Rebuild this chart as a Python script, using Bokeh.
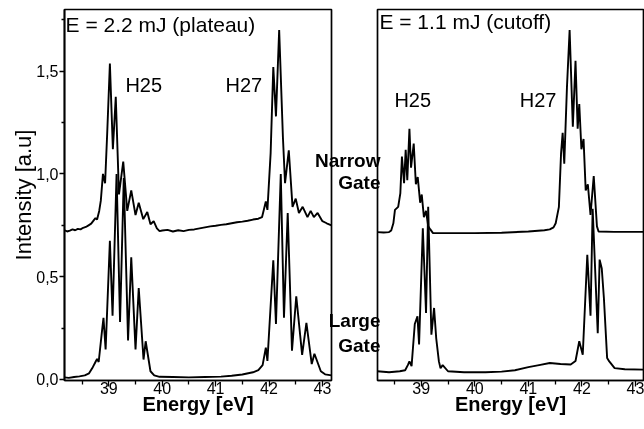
from bokeh.plotting import figure
from bokeh.layouts import row
from bokeh.models import FixedTicker, Label, Range1d
from bokeh.embed import file_html
from bokeh.resources import INLINE

FONT = "Liberation Sans"

# ---------------- axes ----------------
x_ticks = [39, 40, 41, 42, 43]
x_minor_ticks = [38.5, 39.5, 40.5, 41.5, 42.5]
y_ticks = [0.0, 0.5, 1.0, 1.5]
y_tick_labels = ["0,0", "0,5", "1,0", "1,5"]
y_minor_ticks = [0.25, 0.75, 1.25, 1.75]
# gate names shown between the panels, at the height of each trace
gate_positions = [1.063, 0.960, 0.285, 0.163]
gate_labels = ["Narrow", "Gate", "Large", "Gate"]

# ---------------- data (energy eV, intensity a.u.) ----------------
# E = 2.2 mJ (plateau), narrow gate
plateau_narrow = [
    (38.17, 0.726), (38.22, 0.720), (38.27, 0.724), (38.32, 0.730), (38.37, 0.726),
    (38.42, 0.733), (38.47, 0.730), (38.52, 0.738), (38.57, 0.742), (38.62, 0.750),
    (38.67, 0.758), (38.72, 0.775), (38.75, 0.785), (38.78, 0.778), (38.82, 0.820),
    (38.85, 0.870), (38.89, 1.000), (38.93, 0.955), (38.97, 1.200), (39.02, 1.537),
    (39.076, 1.120), (39.13, 1.375), (39.19, 0.900), (39.27, 1.060), (39.345, 0.820),
    (39.42, 0.920), (39.50, 0.800), (39.56, 0.860), (39.645, 0.780), (39.72, 0.815),
    (39.78, 0.755), (39.84, 0.770), (39.90, 0.735), (39.95, 0.722), (40.0, 0.725),
    (40.1, 0.728), (40.2, 0.720), (40.3, 0.726), (40.4, 0.722), (40.5, 0.728),
    (40.6, 0.730), (40.7, 0.735), (40.8, 0.740), (40.9, 0.745), (41.0, 0.748),
    (41.1, 0.752), (41.2, 0.755), (41.3, 0.760), (41.4, 0.765), (41.5, 0.768),
    (41.6, 0.772), (41.7, 0.778), (41.8, 0.782), (41.87, 0.790), (41.94, 0.866),
    (41.97, 0.825), (42.03, 1.100), (42.08, 1.520), (42.13, 1.280), (42.19, 1.700),
    (42.26, 1.180), (42.30, 0.955), (42.37, 1.115), (42.44, 0.840), (42.50, 0.880),
    (42.56, 0.810), (42.63, 0.840), (42.72, 0.790), (42.78, 0.820), (42.84, 0.790),
    (42.91, 0.810), (43.0, 0.770), (43.08, 0.760), (43.17, 0.750),
]
# E = 2.2 mJ (plateau), large gate
plateau_large = [
    (38.17, 0.010), (38.25, 0.008), (38.35, 0.012), (38.45, 0.015), (38.55, 0.020),
    (38.63, 0.030), (38.70, 0.060), (38.75, 0.085), (38.78, 0.100), (38.81, 0.085),
    (38.87, 0.230), (38.90, 0.300), (38.94, 0.146), (39.02, 0.675), (39.07, 0.310),
    (39.145, 1.000), (39.21, 0.280), (39.28, 0.980), (39.36, 0.190), (39.42, 0.594),
    (39.50, 0.146), (39.56, 0.445), (39.65, 0.097), (39.69, 0.186), (39.78, 0.040),
    (39.85, 0.020), (39.95, 0.013), (40.2, 0.012), (40.5, 0.010), (40.8, 0.012),
    (41.1, 0.014), (41.3, 0.018), (41.5, 0.024), (41.7, 0.035), (41.8, 0.045),
    (41.88, 0.070), (41.94, 0.155), (41.97, 0.090), (42.08, 0.580), (42.13, 0.270),
    (42.22, 1.000), (42.28, 0.300), (42.35, 0.810), (42.43, 0.140), (42.51, 0.405),
    (42.62, 0.120), (42.70, 0.275), (42.80, 0.075), (42.85, 0.125), (42.97, 0.040),
    (43.05, 0.025), (43.17, 0.020),
]
# E = 1.1 mJ (cutoff), narrow gate
cutoff_narrow = [
    (38.18, 0.717), (38.30, 0.715), (38.40, 0.717), (38.44, 0.725), (38.48, 0.760),
    (38.51, 0.825), (38.57, 0.840), (38.61, 0.905), (38.64, 1.085), (38.68, 0.955),
    (38.71, 1.117), (38.74, 0.970), (38.78, 1.220), (38.81, 1.030), (38.86, 1.148),
    (38.90, 0.950), (38.935, 0.985), (38.98, 0.860), (39.01, 0.900), (39.05, 0.790),
    (39.09, 0.820), (39.13, 0.745), (39.17, 0.730), (39.22, 0.712), (39.6, 0.712),
    (40.0, 0.712), (40.5, 0.714), (41.0, 0.720), (41.3, 0.726), (41.4, 0.730),
    (41.47, 0.740), (41.51, 0.760), (41.57, 0.840), (41.61, 1.100), (41.64, 1.200),
    (41.67, 1.050), (41.72, 1.420), (41.77, 1.700), (41.83, 1.230), (41.88, 1.550),
    (41.92, 1.220), (41.95, 1.340), (41.99, 1.120), (42.03, 1.170), (42.07, 0.920),
    (42.11, 0.950), (42.16, 0.800), (42.22, 0.990), (42.28, 0.745), (42.31, 0.720),
    (42.6, 0.718), (43.15, 0.718),
]
# E = 1.1 mJ (cutoff), large gate
cutoff_large = [
    (38.18, 0.040), (38.40, 0.035), (38.60, 0.040), (38.70, 0.045), (38.75, 0.070),
    (38.78, 0.088), (38.82, 0.065), (38.88, 0.270), (38.93, 0.307), (38.96, 0.170),
    (39.03, 0.736), (39.09, 0.323), (39.13, 0.840), (39.19, 0.218), (39.24, 0.348),
    (39.28, 0.200), (39.33, 0.088), (39.36, 0.055), (39.40, 0.070), (39.50, 0.040),
    (39.8, 0.035), (40.2, 0.035), (40.5, 0.038), (40.75, 0.045), (41.0, 0.060),
    (41.2, 0.070), (41.4, 0.080), (41.6, 0.075), (41.79, 0.073), (41.88, 0.090),
    (41.95, 0.186), (42.015, 0.120), (42.10, 0.607), (42.16, 0.310), (42.20, 0.830),
    (42.295, 0.225), (42.33, 0.583), (42.37, 0.540), (42.41, 0.395), (42.47, 0.105),
    (42.51, 0.088), (42.61, 0.055), (42.8, 0.050), (43.15, 0.048),
]

Y_RANGE = (-0.005, 1.80)
H = 421


def make_panel(width, x_range, border_left, border_right):
    p = figure(width=width, height=H, x_range=Range1d(*x_range), y_range=Range1d(*Y_RANGE),
               output_backend="svg", toolbar_location=None, title=None,
               min_border_left=border_left, min_border_right=border_right,
               min_border_top=1, min_border_bottom=H - 372)
    p.grid.visible = False
    p.outline_line_color = "black"
    p.outline_line_width = 1.7
    p.outline_line_alpha = 1.0
    xa = p.xaxis[0]
    xa.ticker = FixedTicker(ticks=x_ticks, minor_ticks=x_minor_ticks)
    xa.axis_line_width = 1.7
    xa.major_tick_out = 6
    xa.major_tick_in = 0
    xa.minor_tick_out = 4
    xa.minor_tick_in = 0
    xa.major_tick_line_width = 1.3
    xa.minor_tick_line_width = 1.3
    xa.major_label_text_font = FONT
    xa.major_label_text_font_size = "16px"
    xa.major_label_text_color = "black"
    xa.major_label_standoff = -5
    xa.axis_label = "Energy [eV]"
    xa.axis_label_text_font = FONT
    xa.axis_label_text_font_size = "20px"
    xa.axis_label_text_font_style = "bold"
    xa.axis_label_text_color = "black"
    xa.axis_label_standoff = -4
    return p


def add_curve(p, pts):
    xs = [a for a, _ in pts]
    ys = [b for _, b in pts]
    p.line(xs, ys, line_color="black", line_width=1.9)


def add_text(p, x, y, text, size):
    p.add_layout(Label(x=x, y=y, text=text, text_font=FONT, text_font_size=f"{size}px",
                       text_align="left", text_baseline="alphabetic", text_color="black"))


# ---------------- left panel ----------------
p1 = make_panel(325, (38.17, 43.17), 56, 2)
ya = p1.yaxis[0]
ya.ticker = FixedTicker(ticks=y_ticks, minor_ticks=y_minor_ticks)
ya.major_label_overrides = {t: s for t, s in zip(y_ticks, y_tick_labels)}
ya.axis_line_width = 1.7
ya.major_tick_out = 5
ya.major_tick_in = 0
ya.minor_tick_out = 3
ya.minor_tick_in = 0
ya.major_tick_line_width = 1.3
ya.minor_tick_line_width = 1.3
ya.major_label_text_font = FONT
ya.major_label_text_font_size = "16px"
ya.major_label_text_color = "black"
ya.major_label_standoff = 1
ya.axis_label = "Intensity [a.u]"
ya.axis_label_text_font = FONT
ya.axis_label_text_font_size = "22px"
ya.axis_label_text_font_style = "normal"
ya.axis_label_text_color = "black"
ya.axis_label_standoff = -3
add_curve(p1, plateau_narrow)
add_curve(p1, plateau_large)
add_text(p1, 38.19, 1.726, "E = 2.2 mJ (plateau)", 21)
add_text(p1, 39.31, 1.432, "H25", 20)
add_text(p1, 41.185, 1.432, "H27", 20)

# ---------------- right panel ----------------
p2 = make_panel(332, (38.184, 43.149), 65, 1)
p2.border_fill_color = None
p2.background_fill_color = None
p2.margin = (0, 0, 0, -21)
yb = p2.yaxis[0]
yb.ticker = FixedTicker(ticks=gate_positions, minor_ticks=[])
yb.major_label_overrides = {t: s for t, s in zip(gate_positions, gate_labels)}
yb.axis_line_color = None
yb.major_tick_out = 0
yb.major_tick_in = 0
yb.minor_tick_out = 0
yb.minor_tick_in = 0
yb.major_label_text_font = FONT
yb.major_label_text_font_size = "19px"
yb.major_label_text_font_style = "bold"
yb.major_label_text_color = "black"
yb.major_label_standoff = -3
add_curve(p2, cutoff_narrow)
add_curve(p2, cutoff_large)
add_text(p2, 38.22, 1.741, "E = 1.1 mJ (cutoff)", 21)
add_text(p2, 38.50, 1.359, "H25", 20)
add_text(p2, 40.84, 1.359, "H27", 20)

layout = row(p1, p2, styles={"position": "fixed", "top": "8px", "left": "8px"})
open("out.html", "w").write(file_html(layout, INLINE))
